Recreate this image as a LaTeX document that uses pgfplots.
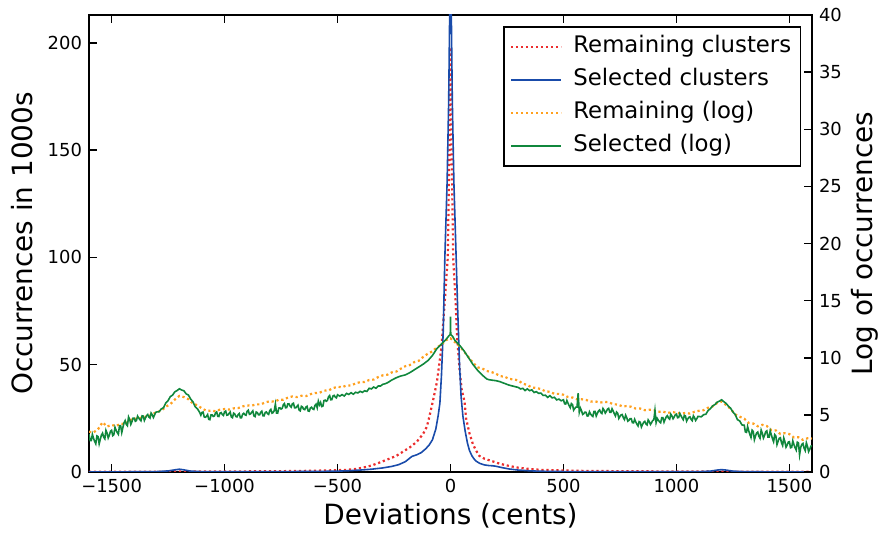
\documentclass[border=0pt]{standalone}
\usepackage{pgfplots}
\pgfplotsset{compat=1.18}
\usepackage{pgfplotstable}
\usepackage{fontspec}
\setmainfont{DejaVu Sans}
\definecolor{cred}{RGB}{235,45,45}
\definecolor{cblue}{RGB}{25,75,170}
\definecolor{corange}{RGB}{255,160,30}
\definecolor{cgreen}{RGB}{16,135,60}

\pgfplotstableread{
x y
-1600 0.05
-1400 0.1
-1300 0.2
-1250 0.5
-1220 1.0
-1200 1.3
-1180 1.0
-1150 0.4
-1100 0.15
-1000 0.1
-800 0.15
-600 0.25
-500 0.4
-450 0.6
-400 0.9
-350 1.3
-300 1.9
-260 2.6
-230 3.4
-200 4.8
-180 6.5
-170 7.3
-150 8.0
-130 9.0
-110 10.8
-95 12.5
-80 15
-65 20
-55 26
-47 32
-40 45
-32 66
-25 100
-15 135
-8 173
-4 210
0 260
4 210
8 173
15 135
25 100
32 75
40 50
47 35
55 26
65 19
75 13.5
84 10
95 7.5
105 6
114 5
130 4.0
150 3.3
170 3.0
186 2.9
200 2.7
230 2.0
260 1.4
300 0.9
350 0.55
400 0.35
500 0.2
700 0.15
1000 0.1
1100 0.15
1150 0.4
1180 0.9
1200 1.1
1220 0.9
1250 0.4
1300 0.15
1400 0.08
1600 0.05
}\bluedata

\pgfplotstableread{
x y
-1600 0.1
-1400 0.12
-1200 0.2
-1000 0.25
-900 0.3
-800 0.35
-700 0.45
-600 0.6
-500 0.85
-460 1.0
-420 1.4
-389 2.0
-350 3.0
-314 4.4
-280 5.8
-240 7.5
-210 9.5
-181 11.4
-150 14.0
-122 17.6
-105 21
-93 26
-78 33
-60 42
-40 58
-25 80
-12 100
-5 150
0 198
5 150
12 100
22 80
30 62
40 48
50 38
62 33
69 25
84 18
99 13
113 10
128 7.5
150 6.2
186 5.0
220 3.8
261 2.8
300 2.0
350 1.4
400 1.0
500 0.7
600 0.5
800 0.35
1000 0.25
1200 0.2
1400 0.12
1600 0.1
}\reddata

\pgfplotstableread{
x y
-1600 3.52
-1580 3.47
-1560 3.74
-1540 4.35
-1520 3.98
-1500 4.12
-1480 4.02
-1460 4.24
-1440 4.18
-1420 4.53
-1400 4.66
-1380 4.66
-1360 4.82
-1340 4.84
-1320 5.04
-1300 5.26
-1280 5.36
-1260 5.72
-1240 5.94
-1220 6.34
-1200 6.66
-1180 6.56
-1160 6.37
-1140 5.99
-1120 5.84
-1100 5.56
-1080 5.36
-1060 5.37
-1040 5.32
-1020 5.46
-1000 5.51
-980 5.46
-960 5.57
-940 5.59
-920 5.74
-900 5.83
-880 5.81
-860 5.92
-840 5.92
-820 6.09
-800 6.19
-780 6.16
-760 6.32
-740 6.32
-720 6.51
-700 6.61
-680 6.56
-660 6.67
-640 6.64
-620 6.81
-600 6.91
-580 6.93
-560 7.12
-540 7.14
-520 7.34
-500 7.46
-480 7.43
-460 7.57
-440 7.57
-420 7.76
-400 7.86
-380 7.88
-360 8.05
-340 8.09
-320 8.31
-300 8.46
-280 8.51
-260 8.72
-240 8.79
-220 9.04
-200 9.26
-180 9.36
-160 9.62
-140 9.74
-120 10.09
-100 10.36
-80 10.56
-60 10.92
-40 11.14
-20 11.54
0 11.7
20 11.36
40 11.02
60 10.54
80 10.04
100 9.56
120 9.16
140 9.07
160 8.84
180 8.76
200 8.61
220 8.39
240 8.34
260 8.14
280 8.11
300 8.01
320 7.73
340 7.62
360 7.39
380 7.36
400 7.26
420 7.06
440 7.02
460 6.84
480 6.84
500 6.76
520 6.56
540 6.52
560 6.36
580 6.37
600 6.31
620 6.16
640 6.19
660 6.07
680 6.13
700 6.11
720 5.93
740 5.91
760 5.75
780 5.77
800 5.71
820 5.55
840 5.55
860 5.41
880 5.45
900 5.41
920 5.27
940 5.29
960 5.17
980 5.23
1000 5.21
1020 5.11
1040 5.17
1060 5.11
1080 5.27
1100 5.36
1120 5.41
1140 5.62
1160 5.74
1180 6.04
1200 6.16
1220 5.86
1240 5.52
1260 5.04
1280 4.84
1300 4.67
1320 4.29
1340 4.24
1360 4.00
1380 4.13
1400 4.02
1420 3.67
1440 3.64
1460 3.33
1480 3.40
1500 3.32
1520 3.02
1540 3.04
1560 2.81
1580 2.95
1600 2.92
}\orangedata

\pgfplotstableread{
x y
-1600 3.30
-1595 2.75
-1590 2.75
-1585 3.30
-1580 2.95
-1575 2.68
-1570 2.47
-1565 3.16
-1560 3.10
-1555 2.46
-1550 2.87
-1545 3.23
-1540 3.40
-1535 3.05
-1530 2.90
-1525 3.65
-1520 3.40
-1515 2.98
-1510 3.22
-1505 3.56
-1500 3.65
-1495 3.18
-1490 3.27
-1485 3.91
-1480 3.65
-1475 3.45
-1470 3.30
-1465 4.05
-1460 4.05
-1455 3.45
-1450 3.90
-1445 4.30
-1440 4.50
-1435 4.17
-1430 4.05
-1425 4.82
-1420 4.60
-1415 4.17
-1410 4.40
-1405 4.72
-1400 4.72
-1395 4.44
-1390 4.50
-1385 4.89
-1380 4.73
-1375 4.59
-1370 4.48
-1365 4.92
-1360 4.90
-1355 4.51
-1350 4.74
-1345 4.94
-1340 5.03
-1335 4.81
-1330 4.72
-1325 5.16
-1320 5.01
-1315 4.77
-1310 4.98
-1305 5.22
-1300 5.26
-1290 5.27
-1280 5.52
-1270 5.63
-1260 6.05
-1250 6.25
-1240 6.60
-1230 6.73
-1220 7.02
-1210 7.13
-1200 7.28
-1190 7.18
-1180 7.11
-1170 6.84
-1160 6.74
-1150 6.38
-1140 6.15
-1130 5.71
-1120 5.53
-1110 5.21
-1105 4.97
-1100 5.22
-1095 5.24
-1090 4.82
-1085 4.79
-1080 4.88
-1075 5.03
-1070 4.61
-1065 4.58
-1060 5.00
-1055 5.00
-1050 4.86
-1045 4.90
-1040 5.18
-1035 5.26
-1030 4.87
-1025 4.86
-1020 5.16
-1015 5.20
-1010 5.03
-1005 4.95
-1000 5.27
-995 5.34
-990 4.97
-985 4.99
-980 5.13
-975 5.25
-970 4.81
-965 4.75
-960 5.15
-955 5.08
-950 4.86
-945 4.82
-940 5.03
-935 5.12
-930 4.74
-925 4.75
-920 5.06
-915 5.14
-910 5.01
-905 4.97
-900 5.32
-895 5.41
-890 5.05
-885 5.08
-880 5.23
-875 5.35
-870 4.91
-865 4.85
-860 5.25
-855 5.20
-850 5.01
-845 5.00
-840 5.23
-835 5.32
-830 4.92
-825 4.91
-820 5.21
-815 5.26
-810 5.11
-805 5.04
-800 5.37
-795 5.48
-790 5.15
-785 5.20
-780 5.38
-775 5.95
-770 5.16
-765 5.15
-760 5.60
-755 5.62
-750 5.51
-745 5.57
-740 5.88
-735 5.99
-730 5.62
-725 5.64
-720 5.96
-715 5.97
-710 5.78
-705 5.68
-700 5.97
-695 6.02
-690 5.62
-685 5.61
-680 5.73
-675 5.85
-670 5.41
-665 5.35
-660 5.75
-655 5.69
-650 5.49
-645 5.46
-640 5.68
-635 5.75
-630 5.34
-625 5.32
-620 5.61
-615 5.67
-610 5.53
-605 5.48
-600 5.82
-595 5.94
-590 5.62
-585 6.20
-580 5.88
-575 6.09
-570 5.73
-565 5.76
-560 6.25
-555 6.29
-550 6.19
-545 6.26
-540 6.58
-535 6.69
-530 6.32
-525 6.34
-520 6.66
-515 6.71
-510 6.56
-505 6.49
-500 6.76
-490 6.64
-480 6.77
-470 6.65
-460 6.88
-450 6.79
-440 6.94
-430 6.81
-420 6.98
-410 6.92
-400 7.06
-390 6.97
-380 7.11
-370 7.05
-360 7.33
-350 7.27
-340 7.44
-330 7.33
-320 7.53
-310 7.52
-300 7.67
-290 7.72
-280 7.80
-270 7.92
-260 8.05
-250 8.15
-240 8.25
-230 8.33
-220 8.40
-210 8.45
-200 8.50
-190 8.60
-180 8.70
-170 8.82
-160 8.95
-150 9.07
-140 9.20
-130 9.32
-120 9.45
-110 9.60
-100 9.75
-90 9.97
-80 10.20
-70 10.50
-60 10.80
-50 11.00
-40 11.20
-30 11.40
-20 11.60
-10 11.85
-1 12.05
0 13.60
1 12.05
10 11.85
20 11.50
30 11.30
40 11.10
50 10.85
60 10.60
70 10.30
80 10.00
90 9.70
100 9.40
110 9.15
120 8.90
130 8.70
140 8.50
150 8.32
160 8.15
170 8.08
180 8.05
190 8.02
200 8.00
210 7.95
220 7.90
230 7.82
240 7.75
250 7.67
260 7.60
270 7.55
280 7.50
290 7.45
300 7.40
310 7.27
320 7.32
330 7.13
340 7.28
350 7.12
360 7.19
370 6.96
380 7.03
390 6.88
400 6.91
410 6.70
420 6.72
430 6.53
440 6.68
450 6.49
460 6.54
470 6.31
480 6.38
490 6.23
500 6.32
505 5.97
510 5.95
515 6.26
520 6.03
525 5.81
530 5.63
535 5.99
540 5.90
545 5.41
550 5.56
555 5.68
560 5.68
565 6.90
570 5.22
575 5.59
580 5.36
585 5.04
590 5.11
595 5.24
600 5.22
605 4.90
610 4.92
615 5.27
620 5.08
625 4.95
630 4.86
635 5.30
640 5.30
645 4.90
650 5.14
655 5.34
660 5.43
665 5.21
670 5.12
675 5.56
680 5.41
685 5.16
690 5.31
695 5.51
700 5.57
705 5.23
710 5.22
715 5.54
720 5.33
725 5.10
730 4.91
735 5.25
740 5.15
745 4.69
750 4.86
755 5.00
760 5.03
765 4.75
770 4.59
775 4.97
780 4.76
785 4.45
790 4.53
795 4.67
800 4.67
805 4.32
810 4.30
815 4.61
820 4.38
825 4.19
830 4.03
835 4.41
840 4.35
845 3.94
850 4.16
855 4.35
860 4.43
865 4.21
870 4.12
875 4.56
880 4.41
885 4.16
890 4.31
895 4.51
900 4.57
905 5.40
910 4.32
915 4.69
920 4.53
925 4.40
930 4.31
935 4.75
940 4.75
945 4.36
950 4.61
955 4.83
960 4.93
965 4.71
970 4.62
975 5.06
980 4.91
985 4.66
990 4.81
995 5.01
1000 5.07
1005 4.75
1010 4.77
1015 5.12
1020 4.93
1025 4.74
1030 4.58
1035 4.96
1040 4.90
1045 4.45
1050 4.64
1055 4.79
1060 4.83
1065 4.60
1070 4.49
1075 4.92
1080 4.76
1085 4.51
1090 4.66
1095 4.86
1100 4.86
1110 4.83
1120 5.02
1130 5.05
1140 5.38
1150 5.54
1160 5.78
1170 5.90
1180 6.11
1190 6.20
1200 6.32
1210 6.15
1220 6.00
1230 5.76
1240 5.58
1250 5.25
1260 5.03
1270 4.58
1280 4.47
1290 4.12
1300 4.10
1305 3.51
1310 3.47
1315 3.98
1320 3.60
1325 3.28
1330 3.02
1335 3.66
1340 3.55
1345 2.82
1350 3.15
1355 3.42
1360 3.50
1365 3.12
1370 2.95
1375 3.67
1380 3.40
1385 2.97
1390 3.20
1395 3.52
1400 3.60
1405 3.05
1410 3.05
1415 3.60
1420 3.25
1425 2.92
1430 2.65
1435 3.27
1440 3.15
1445 2.40
1450 2.70
1455 2.95
1460 3.00
1465 2.56
1470 2.32
1475 2.98
1480 2.65
1485 2.17
1490 2.35
1495 2.62
1500 2.65
1505 2.12
1510 2.15
1515 2.72
1520 2.40
1525 2.13
1530 1.92
1535 2.61
1540 2.55
1545 1.50
1550 2.15
1555 2.42
1560 2.50
1565 2.08
1570 1.87
1575 2.56
1580 2.25
1585 1.78
1590 1.97
1595 2.26
1600 2.30
}\greendata

\pgfplotsset{
  common/.style={
    scale only axis, width=361.5bp, height=228.5bp,
    xmin=-1600, xmax=1600,
    tick align=inside,
    major tick length=4bp,
    every tick/.style={black, line width=0.75bp},
    axis line style={line width=1bp},
    tick label style={font=\fontsize{9}{10}\selectfont},
    /pgf/number format/assume math mode=true,
    label style={font=\fontsize{14}{16}\selectfont},
  }
}

\begin{document}
\begin{tikzpicture}
\path[use as bounding box] (-44.5bp,-32bp) rectangle (396bp,236bp);
\begin{axis}[
  common,
  ymin=0, ymax=213,
  xtick={-1500,-1000,-500,0,500,1000,1500},
  xticklabels={−1500,−1000,−500,0,500,1000,1500},
  ytick={0,50,100,150,200},
  ytick pos=left,
  xtick pos=both,
  xlabel={Deviations (cents)},
  ylabel={Occurrences in 1000s},
  xlabel style={at={(axis description cs:0.5,-0.1138)}, anchor=base},
  ylabel style={at={(axis description cs:-0.0775,0.5)}, anchor=base},
]
\addplot[cred, line width=1.1bp, dash pattern=on 1.1bp off 1.4bp] table {\reddata};
\addplot[cblue, line width=0.8bp] table {\bluedata};
\end{axis}
\begin{axis}[
  common,
  ymin=0, ymax=40,
  axis x line=none,
  axis y line*=right,
  ytick={0,5,...,40},
  ylabel={Log of occurrences},
  ylabel style={at={(axis description cs:1.083,0.5)}, anchor=base},
  legend image code/.code={\path (0bp,0bp) -- (25bp,0bp); \draw[#1] (2.5bp,0bp) -- (25bp,0bp);},
  legend style={at={(1,1)}, anchor=north east, xshift=-5.5bp, yshift=-5.5bp,
    draw=black, line width=0.75bp, fill=white,
    font=\fontsize{11.45}{13}\selectfont,
    inner xsep=3bp, inner ysep=2.8bp, row sep=2bp,
    nodes={inner sep=1.5bp, text height=8.5bp, text depth=3bp},
    /tikz/every odd column/.append style={column sep=4bp}},
  legend cell align=left,
]
\addlegendimage{cred, line width=1.1bp, dash pattern=on 1.1bp off 1.4bp}
\addlegendentry{Remaining clusters}
\addlegendimage{cblue, line width=0.8bp}
\addlegendentry{Selected clusters}
\addplot[corange, line width=1.1bp, dash pattern=on 1.1bp off 1.4bp] table {\orangedata};
\addlegendentry{Remaining (log)}
\addplot[cgreen, line width=0.8bp] table {\greendata};
\addlegendentry{Selected (log)}
\end{axis}
\end{tikzpicture}
\end{document}
